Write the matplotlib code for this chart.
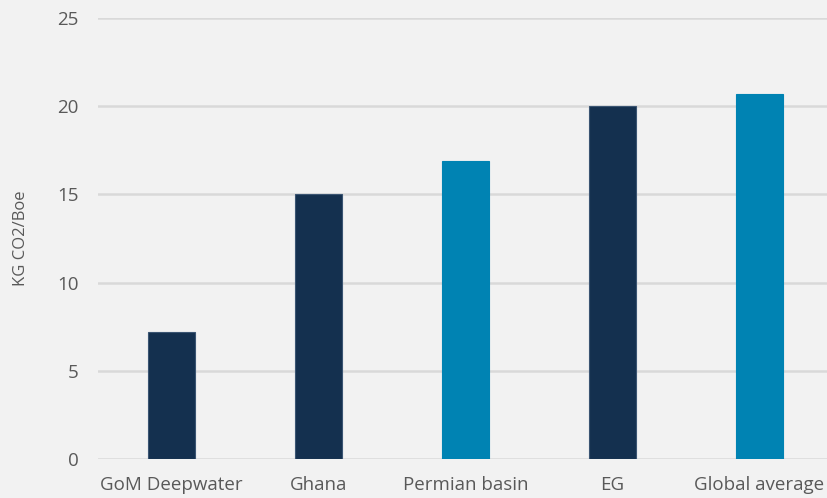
import matplotlib.pyplot as plt

# Data
categories = ["GoM Deepwater", "Ghana", "Permian basin", "EG", "Global average"]
values = [7.2, 15.0, 16.9, 20.0, 20.7]
colors = ["#14304f", "#14304f", "#0083b3", "#14304f", "#0083b3"]
yticks = [0, 5, 10, 15, 20, 25]

plt.rcParams['font.family'] = ['Open Sans', 'DejaVu Sans']

fig = plt.figure(figsize=(8.27, 4.98), dpi=100)
fig.patch.set_facecolor("#f2f2f2")
ax = fig.add_axes([98 / 827, 39 / 498, 735 / 827, 441 / 498])
ax.set_facecolor("#f2f2f2")

x = range(len(categories))
ax.bar(x, values, width=0.32, color=colors, zorder=3,
       edgecolor=["#3b5573" if c == "#14304f" else c for c in colors], linewidth=0.8)

ax.set_xlim(-0.5, len(categories) - 0.5)
ax.set_ylim(0, 25)
ax.set_yticks(yticks)
ax.set_xticks(list(x))
ax.set_xticklabels(categories)
ax.yaxis.grid(True, color="#d9d9d9", linewidth=1.8, zorder=0)
ax.set_axisbelow(True)

for s in ax.spines.values():
    s.set_visible(False)
ax.tick_params(length=0, labelsize=13.5, colors="#595959")
ax.tick_params(axis="y", pad=14)
ax.tick_params(axis="x", pad=12)
ax.set_ylabel("KG CO2/Boe", fontsize=12, color="#595959", labelpad=20)

fig.savefig("out.png", dpi=100, facecolor=fig.get_facecolor())
